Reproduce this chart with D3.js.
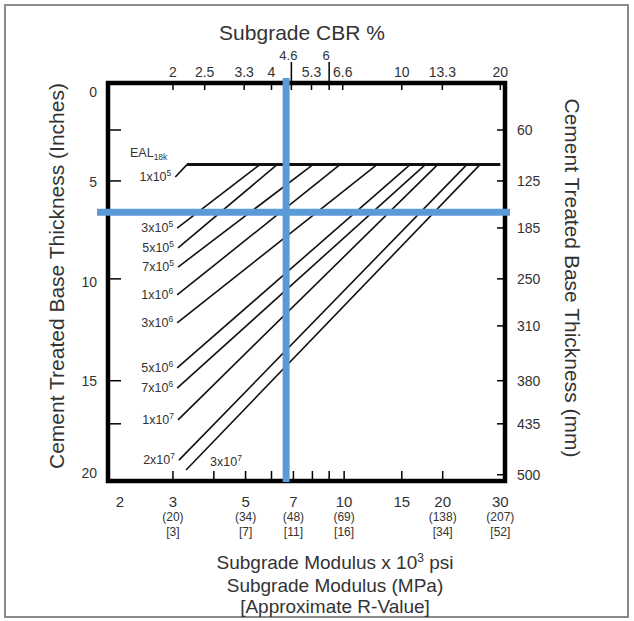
<!DOCTYPE html>
<html>
<head>
<meta charset="utf-8">
<script src="https://cdn.jsdelivr.net/npm/d3@7"></script>
<style>
body { margin: 0; background: #fff; }
text { font-family: "Liberation Sans", Arial, sans-serif; fill: #333; }
</style>
</head>
<body>
<div id="chart-area"></div>
<script>
// EAL design lines (modulus in 10^3 psi, thickness in inches)
var ealMantissa = [1, 3, 5, 7, 1, 3, 5, 7, 1, 2, 3];
var ealExponent = [5, 5, 5, 5, 6, 6, 6, 6, 7, 7, 7];
var startModulus = [3.05, 3.09, 3.11, 3.11, 3.09, 3.09, 3.09, 3.09, 3.11, 3.13, 3.29];
var startThickness = [4.72, 7.29, 8.29, 9.25, 10.65, 12.06, 14.32, 15.33, 16.93, 18.95, 19.45];
var endModulus = [3.31, 5.53, 6.24, 8.03, 9.71, 12.6, 15.9, 17.7, 19.3, 23.7, 26.0];
var minThickness = 4.1;
var maxModulus = 30;

// example reading
var designModulus = 6.65;
var designThickness = 6.5;

// axes
var inchTicks = [0, 5, 10, 15, 20];
var mmTicks = [60, 125, 185, 250, 310, 380, 435, 500];
var mmLeftTicks = [60, 125, 250, 380, 435];
var modulusTicks = [3, 4, 5, 6, 7, 8, 9, 10, 15, 20];
var modulusLabels = [2, 3, 5, 7, 10, 15, 20, 30];
var mpaModulus = [3, 5, 7, 10, 20, 30];
var mpaValues = [20, 34, 48, 69, 138, 207];
var rValues = [3, 7, 11, 16, 34, 52];
var cbrTicks = [2, 2.5, 3.3, 4, 4.6, 5.3, 6, 6.6, 10, 13.3, 20];
var cbrUpper = [4.6, 6];

var margin = { left: 108, right: 129, top: 83, bottom: 140 },
    width = 634 - margin.left - margin.right,
    height = 621 - margin.top - margin.bottom;

var svg = d3.select("#chart-area").append("svg")
    .attr("width", 634)
    .attr("height", 621);

// outer border
svg.append("rect")
    .attr("x", 5).attr("y", 5)
    .attr("width", 623).attr("height", 612)
    .attr("fill", "none")
    .attr("stroke", "#8a8a8a")
    .attr("stroke-width", 2);

var g = svg.append("g")
    .attr("transform", "translate(" + margin.left + "," + margin.top + ")");

// Scales
var x = d3.scaleLog().domain([1.9, 31]).range([0, width]);
var cbr = d3.scaleLog().domain([1.9 / 1.5, 31 / 1.5]).range([0, width]);
var y = d3.scaleLinear().domain([0, 20]).range([0, height]);
var mm = function(v) { return y(v / 25.4); };

// EAL lines
var line = d3.line()
    .x(function(d) { return x(d[0]); })
    .y(function(d) { return y(d[1]); });

ealMantissa.forEach(function(m, i) {
    g.append("path")
        .attr("fill", "none")
        .attr("stroke", "#111")
        .attr("stroke-width", 1.6)
        .attr("d", line([[startModulus[i], startThickness[i]], [endModulus[i], minThickness]]));
});

// minimum thickness line
g.append("path")
    .attr("fill", "none")
    .attr("stroke", "#111")
    .attr("stroke-width", 3)
    .attr("d", line([[endModulus[0], minThickness], [maxModulus, minThickness]]));

// EAL labels
ealMantissa.forEach(function(m, i) {
    var last = i == ealMantissa.length - 1;
    var t = g.append("text")
        .attr("x", last ? x(startModulus[i]) + 24 : x(startModulus[i]) - 4)
        .attr("y", last ? y(startThickness[i]) - 4 : y(startThickness[i]) + 4)
        .attr("text-anchor", last ? "start" : "end")
        .style("font-size", "12.5px");
    t.append("tspan").text(m + "x10");
    t.append("tspan").attr("dy", "-5px").style("font-size", "8.5px").text(ealExponent[i]);
});

var eal = g.append("text")
    .attr("x", 22)
    .attr("y", y(3.5) + 4)
    .style("font-size", "12.5px");
eal.append("tspan").text("EAL");
eal.append("tspan").attr("dy", "3px").style("font-size", "8.5px").text("18k");

// frame
g.append("rect")
    .attr("width", width)
    .attr("height", height)
    .attr("fill", "none")
    .attr("stroke", "#000")
    .attr("stroke-width", 4.5);

// left ticks and labels
mmLeftTicks.forEach(function(v) {
    g.append("line").attr("x1", 0).attr("x2", 13)
        .attr("y1", mm(v)).attr("y2", mm(v))
        .attr("stroke", "#000").attr("stroke-width", 1.5);
});
inchTicks.forEach(function(v) {
    g.append("text")
        .attr("x", -11)
        .attr("y", Math.min(Math.max(y(v), 9), height - 8))
        .attr("dy", "0.35em")
        .attr("text-anchor", "end")
        .style("font-size", "14px")
        .text(v);
});

// right ticks and labels
mmTicks.forEach(function(v) {
    g.append("line").attr("x1", width - 8).attr("x2", width)
        .attr("y1", mm(v)).attr("y2", mm(v))
        .attr("stroke", "#000").attr("stroke-width", 1.5);
    g.append("text")
        .attr("x", width + 12)
        .attr("y", mm(v))
        .attr("dy", "0.35em")
        .style("font-size", "14px")
        .text(v);
});

// bottom ticks and labels
modulusTicks.forEach(function(v) {
    g.append("line").attr("x1", x(v)).attr("x2", x(v))
        .attr("y1", height - 10).attr("y2", height)
        .attr("stroke", "#000").attr("stroke-width", 1.5);
});
modulusLabels.forEach(function(v) {
    g.append("text")
        .attr("x", Math.max(x(v), 12))
        .attr("y", height + 26)
        .attr("text-anchor", "middle")
        .style("font-size", "15px")
        .text(v);
});
mpaModulus.forEach(function(v, i) {
    g.append("text")
        .attr("x", x(v)).attr("y", height + 40)
        .attr("text-anchor", "middle")
        .style("font-size", "12px")
        .text("(" + mpaValues[i] + ")");
    g.append("text")
        .attr("x", x(v)).attr("y", height + 55)
        .attr("text-anchor", "middle")
        .style("font-size", "12px")
        .text("[" + rValues[i] + "]");
});

// top ticks and labels
cbrTicks.forEach(function(v) {
    var up = cbrUpper.indexOf(v) >= 0;
    g.append("line").attr("x1", cbr(v)).attr("x2", cbr(v))
        .attr("y1", up ? -21 : 0).attr("y2", 7)
        .attr("stroke", "#000").attr("stroke-width", 1.5);
    g.append("text")
        .attr("x", up ? cbr(v) - 3 : cbr(v))
        .attr("y", up ? -23 : -6)
        .attr("text-anchor", "middle")
        .style("font-size", up ? "13px" : "14px")
        .text(v);
});

// design reading lines
var blue = "#5a9ad6";
g.append("line")
    .attr("x1", x(designModulus)).attr("x2", x(designModulus))
    .attr("y1", -5).attr("y2", height + 1)
    .attr("stroke", blue).attr("stroke-width", 7);
g.append("line")
    .attr("x1", -11).attr("x2", width + 5)
    .attr("y1", y(designThickness)).attr("y2", y(designThickness))
    .attr("stroke", blue).attr("stroke-width", 7);

// titles
svg.append("text")
    .attr("x", 302).attr("y", 40)
    .attr("text-anchor", "middle")
    .style("font-size", "21px")
    .text("Subgrade CBR %");

var bt = svg.append("text")
    .attr("x", 335).attr("y", 569)
    .attr("text-anchor", "middle")
    .style("font-size", "19px");
bt.append("tspan").text("Subgrade Modulus x 10");
bt.append("tspan").attr("dy", "-7px").style("font-size", "12px").text("3");
bt.append("tspan").attr("dy", "7px").text(" psi");

svg.append("text")
    .attr("x", 335).attr("y", 592)
    .attr("text-anchor", "middle")
    .style("font-size", "19px")
    .text("Subgrade Modulus (MPa)");

svg.append("text")
    .attr("x", 335).attr("y", 613)
    .attr("text-anchor", "middle")
    .style("font-size", "19px")
    .text("[Approximate R-Value]");

svg.append("text")
    .attr("transform", "translate(64," + (margin.top + height / 2 - 6) + ") rotate(-90)")
    .attr("text-anchor", "middle")
    .style("font-size", "21px")
    .text("Cement Treated Base Thickness (Inches)");

svg.append("text")
    .attr("transform", "translate(565," + (margin.top + height / 2 - 4) + ") rotate(90)")
    .attr("text-anchor", "middle")
    .style("font-size", "21px")
    .text("Cement Treated Base Thickness (mm)");
</script>
</body>
</html>
